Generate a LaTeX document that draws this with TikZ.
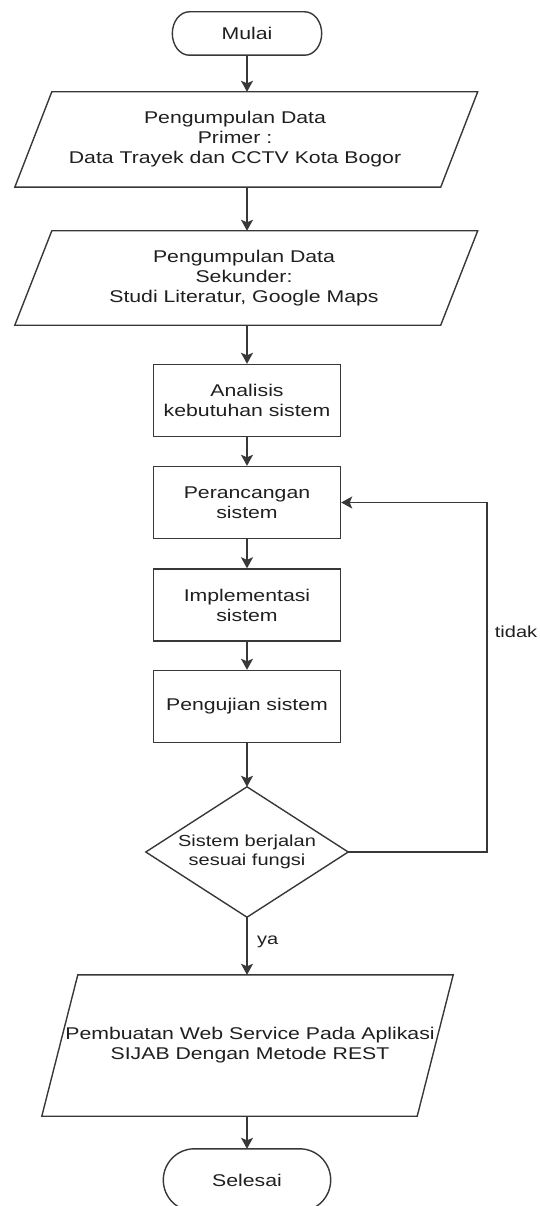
\documentclass[tikz,border=0pt]{standalone}
\usepackage{fontspec}
\setmainfont{Liberation Sans}[FakeStretch=1.25]
\usetikzlibrary{arrows.meta,calc}

% parallelogram outline around a node: #1 node, #2 half of the slant, #3 horizontal offset of the outline
\newcommand\drawio[3]{%
  \draw[line] ([xshift={#3+#2}]#1.north west) -- ([xshift={#3+#2}]#1.north east)
    -- ([xshift={#3-#2}]#1.south east) -- ([xshift={#3-#2}]#1.south west) -- cycle;}
% terminator outline with elliptic ends: #1 node, #2 horizontal radius of the ends
\newcommand\drawterm[2]{%
  \path let \p1=(#1.north), \p2=(#1.south) in
    \pgfextra{\pgfmathsetmacro\termry{(\y1-\y2)/2}}
    [line]
    ([xshift=#2]#1.north west) -- ([xshift=-#2]#1.north east)
    arc[start angle=90, end angle=-90, x radius=#2, y radius=\termry pt]
    -- ([xshift=#2]#1.south west)
    arc[start angle=270, end angle=90, x radius=#2, y radius=\termry pt] -- cycle;}

\begin{document}
\begin{tikzpicture}[
  x=1pt, y=1pt,
  line/.style={draw=black!78, line width=1.4pt},
  arrow/.style={line, -{Stealth[length=11pt,width=12pt,inset=2.5pt]}},
  txt/.style={align=center, font=\fontsize{17}{20}\selectfont, text=black!88, inner sep=0pt},
  small/.style={align=center, font=\fontsize{16}{19.5}\selectfont, text=black!88, inner sep=0pt},
  process/.style={txt, rectangle, line, minimum width=187pt, minimum height=72pt},
  io/.style={txt, rectangle},
  term/.style={txt, rectangle},
]
\useasboundingbox (0,0) rectangle (540,-1206);

% start
\node[term, minimum width=149pt, minimum height=43pt] (start) at (247,-33.5) {Mulai};
\drawterm{start}{17pt}

% data collection
\node[io, minimum width=425.5pt, minimum height=95pt] (p1) at (235,-139.5)
  {Pengumpulan Data\\Primer :\\Data Trayek dan CCTV Kota Bogor};
\drawio{p1}{18.5pt}{11.25pt}
\node[io, minimum width=425.5pt, minimum height=94pt] (p2) at (244,-278)
  {Pengumpulan Data\\Sekunder:\\Studi Literatur, Google Maps};
\drawio{p2}{18.5pt}{2.25pt}

% development steps
\node[process] (ana) at (247,-400.5) {Analisis\\kebutuhan sistem};
\node[process] (per) at (247,-502.5) {Perancangan\\sistem};
\node[process] (imp) at (247,-605) {Implementasi\\sistem};
\node[process] (uji) at (247,-706.5) {Pengujian sistem};

% decision
\node[small, rectangle, minimum width=202pt, minimum height=130pt] (dec) at (247,-852)
  {Sistem berjalan\\sesuai fungsi};
\draw[line] (dec.north) -- (dec.east) -- (dec.south) -- (dec.west) -- cycle;

% result
\node[io, minimum width=375pt, minimum height=141pt] (p3) at (250,-1045.5)
  {Pembuatan Web Service Pada Aplikasi\\SIJAB Dengan Metode REST};
\drawio{p3}{18pt}{-2.5pt}

% end
\node[term, minimum width=167pt, minimum height=62pt] (stop) at (247,-1180) {Selesai};
\drawterm{stop}{31pt}

% labels
\node[small, anchor=west] (ya) at (257,-942) {ya};
\node[small] (tidak) at (516,-632) {tidak};
\coordinate (turn) at (487,-852);

% connectors
\draw[arrow] (start.south) -- (p1.north -| start);
\draw[arrow] (p1.south -| start) -- (p2.north -| start);
\draw[arrow] (p2.south -| ana) -- (ana.north);
\draw[arrow] (ana) -- (per);
\draw[arrow] (per) -- (imp);
\draw[arrow] (imp) -- (uji);
\draw[arrow] (uji.south) -- (dec.north);
\draw[arrow] (dec.south) -- (p3.north -| dec);
\draw[arrow] (p3.south -| stop) -- (stop.north);
\draw[arrow] (dec.east) -- (turn) |- (per.east);
\end{tikzpicture}
\end{document}
